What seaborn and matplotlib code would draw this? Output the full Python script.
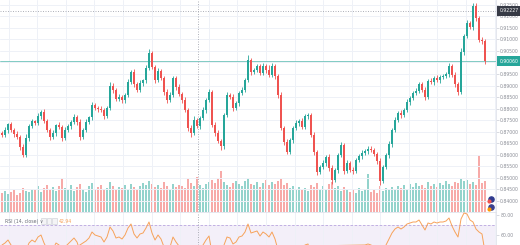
import numpy as np
import pandas as pd
import matplotlib
matplotlib.use("Agg")
import matplotlib.pyplot as plt
import matplotlib.transforms as mtransforms
from matplotlib.patches import Rectangle
import seaborn as sns

sns.set_theme(style="white")
plt.rcParams['font.family'] = ['DejaVu Sans']

# ---------------- data ----------------
first_open = 0.8694
close = [
    0.8686, 0.8707, 0.8733, 0.8707, 0.8690, 0.8677, 0.8634, 0.8599, 0.8673, 0.8725,
    0.8746, 0.8738, 0.8768, 0.8785, 0.8746, 0.8707, 0.8677, 0.8694, 0.8729, 0.8720,
    0.8673, 0.8707, 0.8725, 0.8742, 0.8764, 0.8742, 0.8677, 0.8707, 0.8742, 0.8764,
    0.8816, 0.8803, 0.8798, 0.8794, 0.8768, 0.8803, 0.8898, 0.8881, 0.8842, 0.8850,
    0.8837, 0.8859, 0.8915, 0.8959, 0.8907, 0.8881, 0.8911, 0.8924, 0.8976, 0.9041,
    0.8980, 0.8924, 0.8963, 0.8933, 0.8872, 0.8837, 0.8859, 0.8933, 0.8894, 0.8863,
    0.8837, 0.8794, 0.8716, 0.8694, 0.8751, 0.8725, 0.8759, 0.8794, 0.8837, 0.8872,
    0.8729, 0.8694, 0.8660, 0.8638, 0.8772, 0.8859, 0.8852, 0.8803, 0.8824, 0.8868,
    0.8881, 0.8924, 0.9011, 0.8959, 0.8966, 0.8985, 0.8954, 0.8985, 0.8967, 0.8946,
    0.8985, 0.8941, 0.8859, 0.8716, 0.8655, 0.8612, 0.8664, 0.8716, 0.8738, 0.8746,
    0.8720, 0.8768, 0.8772, 0.8686, 0.8612, 0.8526, 0.8547, 0.8565, 0.8591, 0.8543,
    0.8491, 0.8534, 0.8599, 0.8642, 0.8530, 0.8565, 0.8534, 0.8530, 0.8578, 0.8595,
    0.8608, 0.8617, 0.8625, 0.8621, 0.8604, 0.8573, 0.8487, 0.8547, 0.8599, 0.8647,
    0.8707, 0.8751, 0.8781, 0.8772, 0.8794, 0.8829, 0.8846, 0.8868, 0.8876, 0.8907,
    0.8881, 0.8850, 0.8920, 0.8915, 0.8933, 0.8924, 0.8937, 0.8941, 0.8950, 0.8985,
    0.8946, 0.8907, 0.8872, 0.9045, 0.9114, 0.9171, 0.9153, 0.9244, 0.9192, 0.9097,
    0.9093, 0.9006,
]
upper_wick_pips = [
    8, 12, 6, 10, 9, 14, 7, 11, 15, 9,
    10, 6, 13, 8, 12, 7, 9, 14, 6, 11,
    8, 13, 10, 7, 12, 9, 15, 8, 11, 6,
    14, 9, 7, 12, 10, 8, 16, 11, 9, 13,
    7, 10, 12, 8, 14, 9, 11, 6, 13, 18,
    10, 8, 12, 9, 7, 14, 11, 10, 8, 13,
    9, 12, 7, 11, 15, 8, 10, 13, 9, 12,
    8, 11, 14, 10, 7, 12, 9, 13, 8, 10,
    11, 9, 20, 8, 12, 10, 7, 14, 9, 22,
    11, 8, 10, 13, 9, 12, 7, 10, 14, 8,
    12, 9, 11, 7, 13, 10, 8, 12, 9, 11,
    14, 10, 8, 12, 7, 11, 9, 13, 10, 8,
    12, 9, 11, 14, 8, 10, 12, 9, 7, 11,
    10, 13, 8, 12, 9, 11, 7, 10, 12, 9,
    8, 11, 10, 13, 9, 12, 8, 11, 10, 12,
    9, 14, 10, 18, 11, 13, 9, 12, 15, 10,
    11, 9,
]
lower_wick_pips = [
    10, 7, 12, 9, 11, 8, 13, 10, 7, 12,
    9, 11, 8, 14, 10, 7, 12, 9, 11, 8,
    13, 10, 9, 12, 7, 11, 14, 8, 10, 9,
    12, 8, 11, 10, 13, 7, 9, 12, 10, 8,
    11, 13, 9, 7, 12, 10, 8, 11, 14, 9,
    8, 12, 10, 7, 11, 13, 9, 8, 12, 10,
    11, 9, 14, 16, 10, 8, 12, 9, 11, 7,
    10, 13, 9, 18, 11, 8, 10, 12, 9, 11,
    8, 10, 9, 12, 11, 7, 10, 9, 13, 8,
    10, 12, 11, 9, 14, 10, 8, 11, 9, 12,
    10, 9, 13, 8, 11, 12, 10, 9, 14, 11,
    16, 10, 12, 9, 11, 8, 10, 12, 9, 10,
    11, 9, 12, 10, 8, 11, 16, 10, 9, 11,
    12, 10, 9, 11, 8, 10, 12, 9, 11, 10,
    9, 11, 10, 8, 12, 9, 11, 10, 9, 12,
    10, 13, 12, 9, 11, 10, 8, 12, 11, 10,
    12, 14,
]
volume = [
    19, 21, 18, 20, 22, 17, 19, 24, 21, 20,
    23, 22, 26, 20, 24, 27, 22, 25, 21, 26,
    34, 24, 22, 27, 21, 25, 28, 23, 20, 26,
    29, 22, 25, 27, 23, 24, 30, 26, 22, 25,
    24, 27, 23, 28, 25, 22, 26, 29, 27, 31,
    28, 25, 27, 24, 30, 26, 23, 28, 25, 27,
    26, 24, 33, 29, 26, 35, 27, 24, 28, 30,
    32, 29, 34, 41, 30, 27, 25, 29, 31, 28,
    26, 31, 34, 28, 27, 30, 25, 29, 32, 27,
    30, 28, 31, 33, 27, 29, 24, 26, 23, 25,
    22, 24, 21, 27, 25, 29, 23, 26, 22, 28,
    30, 24, 26, 21, 25, 23, 20, 22, 19, 24,
    21, 23, 38, 20, 22, 19, 26, 21, 24, 23,
    25, 22, 26, 24, 27, 23, 28, 25, 29, 26,
    27, 24, 30, 26, 28, 25, 29, 27, 31, 28,
    26, 30, 29, 33, 31, 32, 28, 30, 27, 57,
    29, 31,
]
rsi = [
    50, 52, 55, 50, 47, 45, 40, 36,
    45, 52, 55, 53, 58, 60,
    52, 46, 42,
    46, 52, 50,
    43,
    48, 51, 54, 57, 53, 44, 49, 54, 57,
    63, 60, 59, 58, 53, 58,
    68, 64, 57, 58, 56, 60,
    67, 71, 61, 57, 61, 62, 67, 73,
    62, 55, 60, 56, 48, 44, 48,
    58, 53, 49, 46, 41,
    34, 32, 42, 39, 45, 50, 55, 59,
    42, 38, 35, 33,
    50, 58, 57, 51, 53, 58, 59, 63, 71,
    62, 63, 64, 59, 63, 61, 58, 63, 56,
    45, 33, 29, 26, 35, 43, 46, 47, 44, 50,
    51, 40, 32, 26, 30, 33, 38, 33, 28,
    35, 44, 49, 36, 41, 38, 38,
    45, 47, 49, 50, 51, 50,
    48, 44, 33,
    43, 50, 56, 62, 66, 68, 66, 68, 71, 72, 73, 73, 75,
    70, 65, 72, 71, 73, 72, 73, 73, 74, 77,
    69, 63, 58, 76, 82, 81, 75, 73, 66, 63, 61, 42.94,
]
price_ticks = [0.840, 0.845, 0.850, 0.855, 0.860, 0.865, 0.870, 0.875, 0.880,
               0.885, 0.890, 0.895, 0.900, 0.905, 0.910, 0.915, 0.920, 0.925]
rsi_ticks = [60, 80]
last_price = 0.9006
crosshair_price = 0.92227
crosshair_index = 65.3
rsi_title = "RSI (14, close) \u2228"
rsi_value_label = "42.94"

# ---------------- derived frame ----------------
n = len(close)
idx = np.arange(n)
closes = np.array(close)
opens = np.array([first_open] + close[:-1])
highs = np.maximum(opens, closes) + np.array(upper_wick_pips) * 1e-4
lows = np.minimum(opens, closes) - np.array(lower_wick_pips) * 1e-4
up = closes >= opens
df = pd.DataFrame({"idx": idx, "open": opens, "close": closes, "high": highs,
                   "low": lows, "volume": volume, "rsi": rsi,
                   "dir": np.where(up, "up", "down")})

UP, DOWN = "#26a69a", "#ef5350"
UP_V, DOWN_V = "#93d3cc", "#f7aaa8"
GRID = "#eef1f7"
TXT = "#8a8d96"
FS = 3.3

W, H = 520, 245
fig = plt.figure(figsize=(W / 100, H / 100), dpi=100)
fig.patch.set_facecolor("white")
plot_right = 496
main_bottom = 212
ax = fig.add_axes([0, (H - main_bottom) / H, plot_right / W, main_bottom / H])
axv = ax.twinx()
axr = fig.add_axes([0, 0, plot_right / W, (H - main_bottom) / H])

xlim = (-0.67, (plot_right - 2) / 3)
grid_x = np.arange(2.2, n + 3, 9.53)

# volume (seaborn)
axv.set_zorder(ax.get_zorder() - 1)
ax.set_zorder(axv.get_zorder() + 1)
ax.patch.set_visible(False)
axv.patch.set_facecolor("white")
sns.barplot(data=df, x="idx", y="volume", hue="dir", palette={"up": UP_V, "down": DOWN_V},
            native_scale=True, dodge=False, legend=False, width=0.72, saturation=1,
            errorbar=None, ax=axv, linewidth=0)
axv.set_ylim(0, main_bottom)
axv.set_yticks([])
axv.set_ylabel("")
axv.set_xlabel("")

# candles
colors = np.where(up, UP, DOWN)
ax.vlines(idx, lows, highs, colors=colors, lw=0.6, zorder=3)
body_h = np.maximum(np.abs(closes - opens), 0.00006)
ax.bar(idx, body_h, bottom=np.minimum(opens, closes), width=0.7, color=colors,
       linewidth=0, zorder=4)

ax.set_xlim(*xlim)
axv.set_xlim(*xlim)
ax.set_ylim(0.84 - 11 * 0.000433, 0.84 + 201 * 0.000433)
ax.set_xticks(grid_x)
ax.set_yticks(price_ticks)
ax.yaxis.tick_right()
# the tick under the last-price badge is hidden by the badge in the reference
ax.set_yticklabels(["" if abs(v - last_price) < 0.0025 else f"{v:.5f}" for v in price_ticks])
ax.tick_params(axis="y", length=2, width=0.5, color="#c9ccd4", labelsize=FS,
               labelcolor=TXT, pad=1.0)
ax.tick_params(axis="x", length=0, labelbottom=False)
ax.grid(True, color=GRID, lw=0.7, zorder=0)
ax.set_axisbelow(True)
for s in ["top", "left", "bottom"]:
    ax.spines[s].set_visible(False)
ax.spines["right"].set_color("#e0e3eb")
ax.spines["right"].set_linewidth(0.6)
for s in axv.spines.values():
    s.set_visible(False)

# price lines
ax.axhline(last_price, color="#6cc3b9", lw=0.6, zorder=2)
ax.axhline(crosshair_price, color="#a3a6af", lw=0.6, ls=(0, (1.2, 1.8)), zorder=2)
ax.axvline(crosshair_index, color="#a3a6af", lw=0.6, ls=(0, (1.2, 1.8)), zorder=2)

tr = mtransforms.blended_transform_factory(ax.transAxes, ax.transData)
ax.text(499.5 / plot_right, last_price, f"{last_price:.5f}", transform=tr, ha="left",
        va="center", fontsize=FS, color="white", clip_on=False, zorder=10,
        bbox=dict(boxstyle="square,pad=0.45", fc=UP, ec="none"))
ax.text(499.5 / plot_right, crosshair_price, f"{crosshair_price:.5f}", transform=tr,
        ha="left", va="center", fontsize=FS, color="white", clip_on=False, zorder=10,
        bbox=dict(boxstyle="square,pad=0.45", fc="#363a45", ec="none"))

# small event icons near the axis
ax.scatter([491], [H - 199], transform=None, s=14, color="#2f3b8f", clip_on=False, zorder=11)
ax.scatter([489], [H - 201], transform=None, s=4, color="#ef5350", clip_on=False, zorder=12)
ax.scatter([491], [H - 207], transform=None, s=14, color="#3a3f8f", clip_on=False, zorder=11)
ax.scatter([489], [H - 209], transform=None, s=4, color="#ff9800", clip_on=False, zorder=12)

# RSI panel
axr.axhspan(30, 70, color="#7e57c2", alpha=0.09, lw=0, zorder=0)
axr.axhline(70, color="#b9a6df", lw=0.6, ls=(0, (3, 2)), zorder=1)
sns.lineplot(data=df, x="idx", y="rsi", ax=axr, color="#f7a25a", lw=0.7, zorder=3)
axr.axvline(crosshair_index, color="#a3a6af", lw=0.6, ls=(0, (1.2, 1.8)), zorder=2)
axr.set_xlim(*xlim)
axr.set_ylim(50, 83)
axr.set_xticks(grid_x)
axr.set_yticks(rsi_ticks)
axr.yaxis.tick_right()
axr.set_yticklabels([f"{v:.2f}" for v in rsi_ticks])
axr.tick_params(axis="y", length=2, width=0.5, color="#c9ccd4", labelsize=FS,
                labelcolor=TXT, pad=1.0)
axr.tick_params(axis="x", length=0, labelbottom=False)
axr.grid(True, axis="x", color=GRID, lw=0.7)
axr.set_axisbelow(True)
axr.set_xlabel("")
axr.set_ylabel("")
for s in ["left", "bottom"]:
    axr.spines[s].set_visible(False)
for s in ["top", "right"]:
    axr.spines[s].set_color("#e0e3eb")
    axr.spines[s].set_linewidth(0.6)

ry = (H - 221) / (H - main_bottom)
axr.text(5 / plot_right, ry, rsi_title, transform=axr.transAxes, fontsize=FS,
         color="#6a6d78", va="center", ha="left")
for k in range(3):
    axr.add_patch(Rectangle(((41 + k * 5.5) / plot_right, ry - 0.1), 4.5 / plot_right, 0.2,
                            transform=axr.transAxes, fc="#f4f4f6", ec="#c9ccd4", lw=0.4))
axr.text(59 / plot_right, ry, rsi_value_label, transform=axr.transAxes, fontsize=FS,
         color="#f7a25a", va="center", ha="left")

fig.savefig("out.png", dpi=100, facecolor="white")
